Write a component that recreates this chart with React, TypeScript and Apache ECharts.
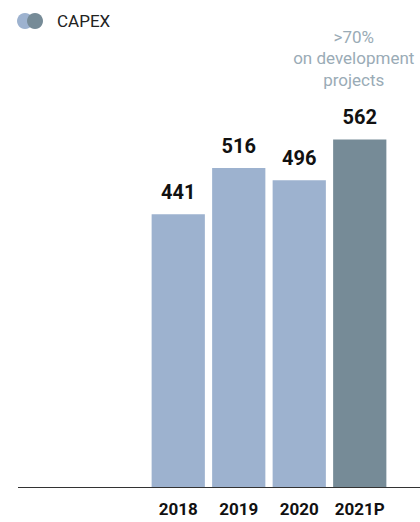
import React, { useEffect, useRef } from "react";
import * as echarts from "echarts";

const categories = ["2018", "2019", "2020", "2021P"];
const capex = [441, 516, 496, 562];
const noteLines = [">70%", "on development", "projects"];
const legendName = "CAPEX";

const LIGHT = "#9db2cf";
const DARK = "#768b97";
const NOTE = "#9aabb6";

export default function App() {
  const ref = useRef<HTMLDivElement>(null);
  useEffect(() => {
    if (!ref.current) return;
    const chart = echarts.init(ref.current, null, { renderer: "svg" });
    const last = categories.length - 1;
    const data = capex.map((v, i) =>
      i === last
        ? {
            value: v,
            itemStyle: { color: DARK },
            label: {
              distance: 10,
              formatter:
                noteLines.map((l) => `{a|${l}}`).join("\n") + "\n{s| }\n{b|{c}}",
              rich: {
                a: {
                  color: NOTE,
                  fontSize: 17,
                  lineHeight: 21.5,
                  fontFamily: "Roboto",
                  fontWeight: "normal",
                  padding: [0, 12, 0, 0],
                },
                s: { fontSize: 10, lineHeight: 15 },
                b: { color: "#111", fontSize: 20, lineHeight: 24, fontFamily: "Roboto", fontWeight: "bold" },
              },
            },
          }
        : { value: v, itemStyle: { color: LIGHT } }
    );
    chart.setOption({
      animation: false,
      grid: { left: 148, right: 30, top: 116, bottom: 35 },
      xAxis: {
        type: "category",
        data: categories,
        axisLine: { show: false },
        axisTick: { show: false },
        axisLabel: {
          interval: 0,
          color: "#111",
          fontSize: 17,
          fontWeight: "bold",
          fontFamily: "Roboto",
          margin: 13,
        },
      },
      yAxis: {
        type: "value",
        min: 0,
        max: 600,
        show: false,
        splitLine: { show: false },
      },
      series: [
        {
          type: "bar",
          name: legendName,
          data,
          barCategoryGap: "12%",
          label: {
            show: true,
            position: "top",
            distance: 12,
            color: "#111",
            fontSize: 20,
            fontWeight: "bold",
            fontFamily: "Roboto",
          },
        },
      ],
      graphic: [
        {
          type: "line",
          shape: { x1: 18, y1: 487.5, x2: 420, y2: 487.5 },
          style: { stroke: "#333", lineWidth: 1.2 },
          z: 100,
        },
        { type: "circle", shape: { cx: 25, cy: 21, r: 8 }, style: { fill: LIGHT } },
        { type: "circle", shape: { cx: 35, cy: 21, r: 8 }, style: { fill: DARK } },
        {
          type: "text",
          left: 57,
          top: 12,
          style: { text: legendName, fill: "#222", fontSize: 17, fontFamily: "Roboto" },
        },
      ],
    });
    return () => chart.dispose();
  }, []);
  return (
    <div
      ref={ref}
      style={{ position: "fixed", left: 0, top: 0, width: 420, height: 522, background: "#fff" }}
    />
  );
}
